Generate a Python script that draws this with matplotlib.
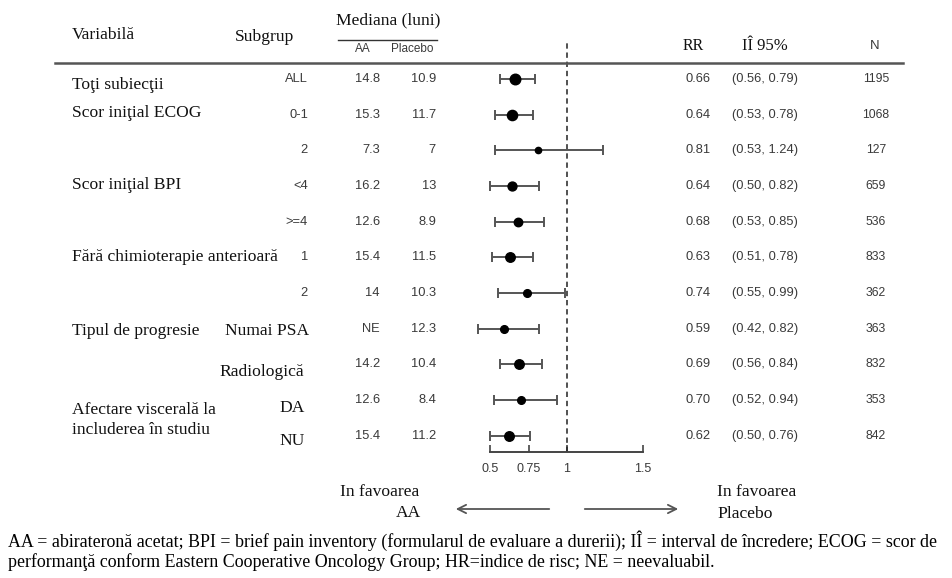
import matplotlib
matplotlib.use("Agg")
import matplotlib.pyplot as plt
import numpy as np

# ---------------- data ----------------
variables = ["Toţi subiecţii", "Scor iniţial ECOG", "Scor iniţial BPI",
             "Fără chimioterapie anterioară", "Tipul de progresie",
             "Afectare viscerală la\nincluderea în studiu"]
subgroups = ["ALL", "0-1", "2", "<4", ">=4", "1", "2", "Numai PSA", "Radiologică", "DA", "NU"]
median_aa = ["14.8", "15.3", "7.3", "16.2", "12.6", "15.4", "14", "NE", "14.2", "12.6", "15.4"]
median_pl = ["10.9", "11.7", "7", "13", "8.9", "11.5", "10.3", "12.3", "10.4", "8.4", "11.2"]
hr = [0.66, 0.64, 0.81, 0.64, 0.68, 0.63, 0.74, 0.59, 0.69, 0.70, 0.62]
ci_lo = [0.56, 0.53, 0.53, 0.50, 0.53, 0.51, 0.55, 0.42, 0.56, 0.52, 0.50]
ci_hi = [0.79, 0.78, 1.24, 0.82, 0.85, 0.78, 0.99, 0.82, 0.84, 0.94, 0.76]
n_pat = [1195, 1068, 127, 659, 536, 833, 362, 363, 832, 353, 842]
xticks = [0.5, 0.75, 1, 1.5]
xtick_labels = ["0.5", "0.75", "1", "1.5"]

# ---------------- layout helpers ----------------
W, H = 953, 578
fig = plt.figure(figsize=(W / 100, H / 100), dpi=100)
fig.patch.set_facecolor("white")

SERIF = "Liberation Serif"
SANS = "Liberation Sans"
GRAY = "#3a3a3a"
SFS = 12.6   # serif label size
NFS = 9.3    # sans number size

def F(xp, yp):
    return xp / W, 1 - yp / H

ROW0, DROW = 79.0, 35.67
def row_px(i):
    return ROW0 + i * DROW

# ---------------- forest axes ----------------
ax_l, ax_r = 440, 700
ax_t, ax_b = 42, 452
fax = fig.add_axes([ax_l / W, 1 - ax_b / H, (ax_r - ax_l) / W, (ax_b - ax_t) / H])
ppu = 152.0  # pixels per unit
x0 = 0.5 - (490.5 - ax_l) / ppu
x1 = 0.5 + (ax_r - 490.5) / ppu
fax.set_xlim(x0, x1)
fax.set_ylim((ax_b - ROW0) / DROW, (ax_t - ROW0) / DROW)
fax.patch.set_alpha(0)
for s in ["top", "left", "right"]:
    fax.spines[s].set_visible(False)
fax.spines["bottom"].set_bounds(0.5, 1.5)
fax.spines["bottom"].set_color("#444444")
fax.spines["bottom"].set_linewidth(1.4)
fax.set_yticks([])
fax.set_xticks(xticks)
fax.set_xticklabels(xtick_labels, fontfamily=SANS, fontsize=9, color=GRAY)
fax.tick_params(axis="x", direction="in", length=5, width=1.2, color="#444444", pad=8)

fax.axvline(1.0, color="#222222", lw=1.1, ls=(0, (3.5, 2.5)))

rows = np.arange(len(hr))
hr_a = np.array(hr)
err = [hr_a - np.array(ci_lo), np.array(ci_hi) - hr_a]
fax.errorbar(hr_a, rows, xerr=err, fmt="none", ecolor="#555555", elinewidth=1.4,
             capsize=3.6, capthick=1.4, zorder=2)
ms = 3.0 + 4.6 * np.sqrt(np.array(n_pat) / max(n_pat))
for x, y, m in zip(hr_a, rows, ms):
    fax.plot(x, y, "o", color="black", ms=m, zorder=3)

# ---------------- header ----------------
def t(xp, yp, s, **kw):
    x, y = F(xp, yp)
    fig.text(x, y, s, **kw)

t(72, 35, "Variabilă", family=SERIF, fontsize=SFS, va="center", ha="left", color="#111")
t(235, 37, "Subgrup", family=SERIF, fontsize=SFS, va="center", ha="left", color="#111")
t(388, 20, "Mediana (luni)", family=SERIF, fontsize=SFS, va="center", ha="center", color="#111")
t(363, 49, "AA", family=SANS, fontsize=8.5, va="center", ha="center", color=GRAY)
t(412, 49, "Placebo", family=SANS, fontsize=8.5, va="center", ha="center", color=GRAY)
t(693, 46, "RR", family=SERIF, fontsize=11.5, va="center", ha="center", color="#111")
t(765, 46, "IÎ 95%", family=SERIF, fontsize=12, va="center", ha="center", color="#111")
t(875, 46, "N", family=SANS, fontsize=9.5, va="center", ha="center", color=GRAY)

fig.add_artist(plt.Line2D([338 / W, 437 / W], [1 - 40 / H] * 2, color="#333", lw=1.0))
fig.add_artist(plt.Line2D([55 / W, 903 / W], [1 - 62.5 / H] * 2, color="#555", lw=1.8))

# ---------------- left labels ----------------
var_px = [(72, 85), (72, 113), (72, 185), (72, 257), (72, 331), (72, 420)]
for (xp, yp), s in zip(var_px, variables):
    t(xp, yp, s, family=SERIF, fontsize=SFS, va="center", ha="left", color="#111",
      linespacing=1.3)

serif_sub = {"Numai PSA": (309, 331), "Radiologică": (304, 372), "DA": (305, 408), "NU": (305, 441)}
for i, s in enumerate(subgroups):
    if s in serif_sub:
        xp, yp = serif_sub[s]
        t(xp, yp, s, family=SERIF, fontsize=SFS, va="center", ha="right", color="#111")
    else:
        t(308, row_px(i), s, family=SANS, fontsize=NFS, va="center", ha="right", color=GRAY)

for i in range(len(hr)):
    yp = row_px(i)
    t(380, yp, median_aa[i], family=SANS, fontsize=NFS, va="center", ha="right", color=GRAY)
    t(436, yp, median_pl[i], family=SANS, fontsize=NFS, va="center", ha="right", color=GRAY)
    t(698, yp, f"{hr[i]:.2f}", family=SANS, fontsize=NFS, va="center", ha="center", color=GRAY)
    t(765, yp, f"({ci_lo[i]:.2f}, {ci_hi[i]:.2f})", family=SANS, fontsize=NFS,
      va="center", ha="center", color=GRAY)
    t(876, yp, str(n_pat[i]), family=SANS, fontsize=8.8, va="center", ha="center", color=GRAY)

# ---------------- bottom favour labels ----------------
t(380, 492, "In favoarea", family=SERIF, fontsize=SFS, va="center", ha="center", color="#111")
t(421, 513, "AA", family=SERIF, fontsize=SFS, va="center", ha="right", color="#111")
t(717, 492, "In favoarea", family=SERIF, fontsize=SFS, va="center", ha="left", color="#111")
t(717, 514, "Placebo", family=SERIF, fontsize=SFS, va="center", ha="left", color="#111")

fig.add_artist(matplotlib.patches.FancyArrowPatch(F(552, 509), F(453, 509),
               transform=fig.transFigure, arrowstyle="->,head_length=6,head_width=3",
               color="#555", lw=1.3, mutation_scale=1))
fig.add_artist(matplotlib.patches.FancyArrowPatch(F(582, 509), F(681, 509),
               transform=fig.transFigure, arrowstyle="->,head_length=6,head_width=3",
               color="#555", lw=1.3, mutation_scale=1))

# ---------------- footnote ----------------
t(8, 541, "AA = abirateronă acetat; BPI = brief pain inventory (formularul de evaluare a durerii); "
  "IÎ = interval de încredere; ECOG = scor de", family=SERIF, fontsize=12.85, va="center",
  ha="left", color="black")
t(8, 562, "performanţă conform Eastern Cooperative Oncology Group; HR=indice de risc; NE = neevaluabil.",
  family=SERIF, fontsize=12.85, va="center", ha="left", color="black")

fig.savefig("out.png", dpi=100, facecolor="white")
